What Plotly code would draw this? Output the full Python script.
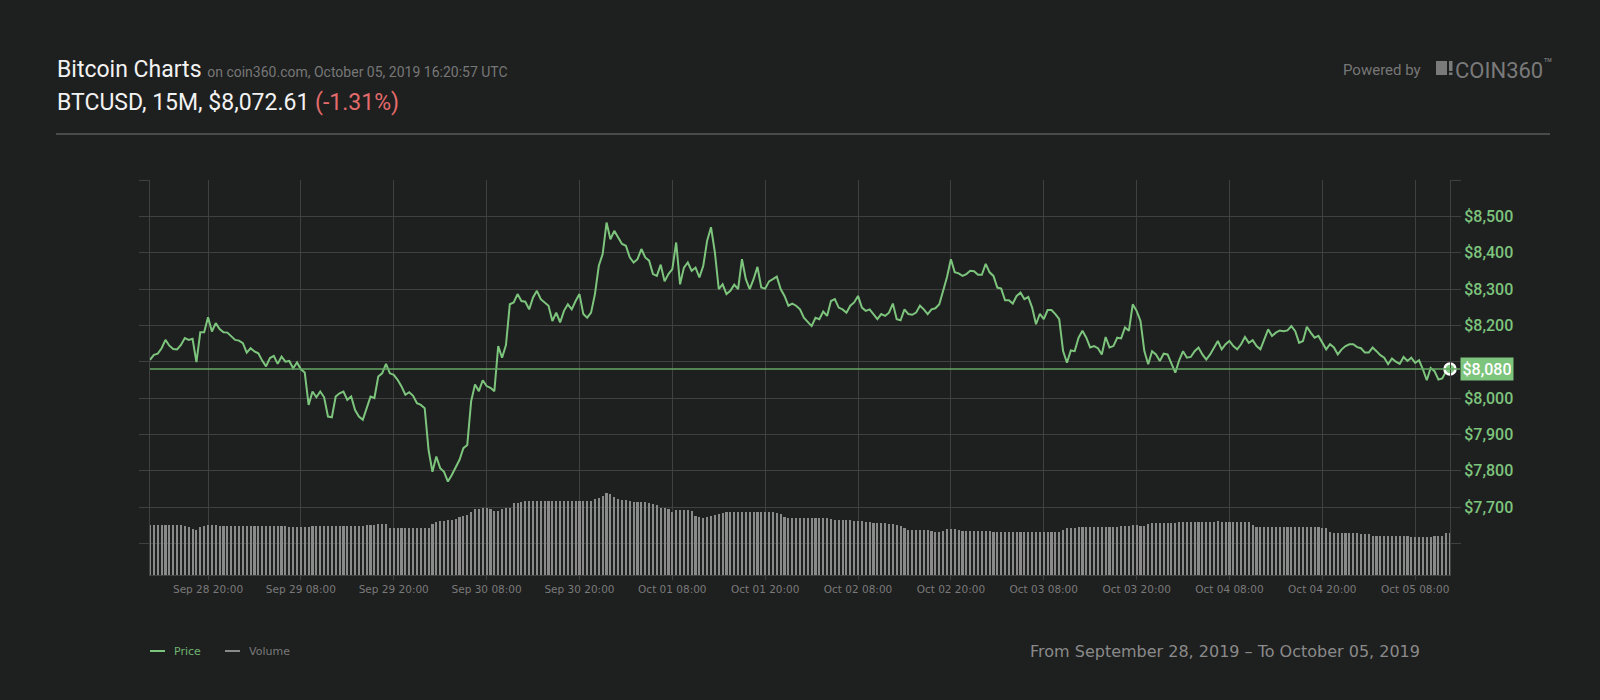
import pandas as pd
import plotly.graph_objects as go

# BTCUSD, every 30 minutes (Sep 28 12:30 -> Oct 05 12:30)
times = pd.date_range("2019-09-28 12:30", periods=337, freq="30min")

price = [
    8105, 8119, 8122, 8137, 8160, 8144, 8135, 8134, 8146, 8165,
    8160, 8163, 8099, 8181, 8181, 8222, 8183, 8206, 8190, 8181,
    8180, 8169, 8160, 8158, 8151, 8125, 8137, 8128, 8123, 8103,
    8087, 8110, 8116, 8094, 8114, 8100, 8102, 8082, 8098, 8079,
    8070, 7981, 8018, 8002, 8018, 8002, 7949, 7947, 8004, 8013,
    8018, 7995, 8004, 7967, 7949, 7940, 7972, 8004, 8000, 8059,
    8068, 8094, 8068, 8064, 8050, 8032, 8009, 8016, 8006, 7986,
    7981, 7972, 7857, 7797, 7839, 7807, 7797, 7770, 7788, 7807,
    7830, 7862, 7871, 7991, 8037, 8019, 8049, 8033, 8028, 8019,
    8143, 8111, 8146, 8258, 8263, 8286, 8267, 8265, 8244, 8277,
    8295, 8272, 8263, 8254, 8212, 8235, 8208, 8240, 8258, 8244,
    8267, 8286, 8231, 8221, 8235, 8286, 8364, 8396, 8483, 8437,
    8460, 8442, 8424, 8419, 8387, 8373, 8382, 8410, 8387, 8378,
    8341, 8336, 8367, 8321, 8341, 8355, 8428, 8313, 8359, 8373,
    8350, 8359, 8332, 8364, 8433, 8470, 8401, 8300, 8313, 8286,
    8295, 8312, 8300, 8382, 8327, 8300, 8327, 8361, 8304, 8301,
    8321, 8327, 8334, 8300, 8281, 8254, 8260, 8254, 8244, 8221,
    8208, 8198, 8221, 8217, 8238, 8226, 8267, 8272, 8249, 8244,
    8235, 8254, 8263, 8281, 8249, 8240, 8244, 8231, 8217, 8231,
    8226, 8235, 8260, 8217, 8214, 8244, 8231, 8229, 8235, 8254,
    8244, 8231, 8244, 8247, 8258, 8295, 8333, 8382, 8346, 8343,
    8336, 8341, 8350, 8349, 8339, 8339, 8369, 8346, 8336, 8304,
    8301, 8269, 8269, 8260, 8281, 8290, 8272, 8278, 8249, 8203,
    8232, 8217, 8242, 8242, 8231, 8217, 8129, 8097, 8131, 8129,
    8166, 8185, 8166, 8139, 8143, 8137, 8120, 8168, 8139, 8143,
    8166, 8164, 8194, 8185, 8258, 8240, 8212, 8129, 8093, 8129,
    8120, 8102, 8122, 8120, 8093, 8070, 8104, 8129, 8111, 8113,
    8129, 8139, 8120, 8106, 8120, 8137, 8157, 8134, 8148, 8157,
    8143, 8134, 8148, 8168, 8152, 8159, 8143, 8134, 8162, 8189,
    8171, 8180, 8186, 8184, 8186, 8198, 8184, 8152, 8157, 8196,
    8180, 8166, 8171, 8152, 8134, 8148, 8139, 8120, 8134, 8143,
    8148, 8148, 8140, 8137, 8125, 8125, 8139, 8129, 8118, 8111,
    8093, 8109, 8100, 8094, 8113, 8102, 8111, 8097, 8104, 8079,
    8049, 8083, 8074, 8051, 8054, 8074, 8080,
]

# volume (no scale on the chart, relative units)
volume = [
    50, 50, 50, 50, 50, 50, 50, 50, 50, 49.5,
    48.5, 46, 45, 48, 49, 50, 50, 50, 49, 49,
    49, 49, 49, 49, 49, 49, 49, 49, 49, 49,
    49, 49, 49, 49, 49, 49, 48, 48, 48, 48.5,
    48.5, 48.5, 49.5, 49.5, 49.5, 49.5, 49.5, 49.5, 49.5, 49.5,
    49.5, 49.5, 49, 49, 49, 49, 50, 50, 50, 51.5,
    51.5, 51.5, 47.5, 47.5, 47.5, 47.5, 47.5, 47.5, 47.5, 47.5,
    47.5, 47.5, 47, 51, 53, 54, 54.5, 55, 55.5, 56,
    58, 59, 60, 63, 66, 66.5, 66.7, 66.7, 66, 64,
    64, 66.5, 66.7, 67, 72, 72.5, 73, 74, 74, 74,
    74, 74, 74, 74, 74, 74, 74, 74, 74, 74,
    74, 74, 74, 74, 74.5, 76.5, 77, 79, 81.7, 81.5,
    78.5, 76, 75, 75, 74.5, 73, 72.7, 72.7, 72.7, 72,
    71.5, 70, 67.5, 66.7, 66.5, 63.5, 65, 65, 65, 65,
    64.5, 59.5, 58.5, 57.5, 58, 59, 60.5, 61, 62, 63,
    63.5, 63.5, 63.5, 63.5, 63.5, 63.5, 63.5, 63.5, 63.5, 63.3,
    63.3, 63.3, 62.5, 61.5, 58.5, 57.5, 56.7, 56.7, 56.7, 56.7,
    56.7, 57, 57.3, 57.3, 57, 56.7, 56.3, 55, 55, 55,
    55, 55, 54.5, 54, 54, 53.5, 53, 52, 51.7, 51.7,
    51.7, 51, 50.7, 50.5, 49, 47.5, 45, 45, 45, 45,
    45, 45, 44, 43.3, 43.3, 44, 45.7, 45.7, 45.7, 45,
    44.3, 44.3, 44.3, 44.3, 44.3, 44.3, 44.3, 44.3, 43, 42.7,
    42.7, 42.7, 42.7, 42.7, 42.7, 42.7, 42.7, 42.7, 42.7, 42.7,
    42.7, 42.7, 42.7, 42.7, 42.7, 42.7, 45, 46.7, 46.7, 47,
    48, 48, 48, 48, 48, 48, 48, 48, 48, 48,
    48, 48.7, 49, 49, 50, 50, 49, 49.5, 51, 51.7,
    51.7, 51.7, 51.7, 51.7, 51.7, 51.7, 52.7, 52.7, 52.7, 52.7,
    52.7, 52.7, 52.7, 52.7, 52.7, 52.7, 54, 52.7, 52.7, 52.7,
    52.7, 52.7, 52.7, 52.7, 52.7, 50, 48.3, 48.3, 48.3, 48.3,
    48.3, 48.3, 48.3, 48.3, 48.3, 48.3, 48.3, 48.3, 48.3, 48.3,
    48.3, 48.3, 48.3, 46.7, 46.7, 43, 41.7, 41.7, 41.7, 41.7,
    41.7, 41.7, 41.7, 41, 40.7, 40.7, 39.3, 39.3, 39.3, 39.3,
    39.3, 39.3, 39.3, 39.3, 39.3, 39.3, 38.3, 38.3, 38.3, 38.3,
    38.3, 38.3, 39.3, 39.3, 39.3, 41.7, 41.7,
]

# $8,100 sits under the last-price tag in the original, so it has no label
price_ticks = [7600, 7700, 7800, 7900, 8000, 8100, 8200, 8300, 8400, 8500, 8600]
price_labels = ["", "$7,700", "$7,800", "$7,900", "$8,000", "",
                "$8,200", "$8,300", "$8,400", "$8,500", ""]

assert len(price) == len(times) == len(volume)

BG = "#1e1f1f"
GRID = "#404040"
GREEN = "#7dc47d"


# pixel -> paper helpers (plot area is 150..1450 x 180..575)
def px_x(x):
    return (x - 150) / 1300


def px_y(y):
    return (575 - y) / 395


fig = go.Figure()

fig.add_trace(go.Bar(
    x=times, y=volume, yaxis="y2",
    marker_color="#8a8a8a", marker_line_width=0,
    width=0.55 * 30 * 60 * 1000,
    hoverinfo="skip", showlegend=False,
))

fig.add_trace(go.Scatter(
    x=times, y=price, mode="lines",
    line=dict(color=GREEN, width=2),
    showlegend=False,
))

last = price[-1]

fig.add_trace(go.Scatter(
    x=[times[-1]], y=[last], mode="markers",
    marker=dict(size=11, color=GREEN, line=dict(color="white", width=2.5)),
    cliponaxis=False, showlegend=False,
))

shapes = [
    # last price line
    dict(type="line", xref="paper", yref="y", x0=0, x1=px_x(1460), y0=last, y1=last,
         line=dict(color="#64a864", width=1.5)),
    # header separator
    dict(type="line", xref="paper", yref="paper", x0=px_x(56), x1=px_x(1550),
         y0=px_y(134), y1=px_y(134), line=dict(color="#4a4a4a", width=2)),
    # legend swatches
    dict(type="line", xref="paper", yref="paper", x0=px_x(150), x1=px_x(165),
         y0=px_y(651), y1=px_y(651), line=dict(color=GREEN, width=2)),
    dict(type="line", xref="paper", yref="paper", x0=px_x(225), x1=px_x(240),
         y0=px_y(651), y1=px_y(651), line=dict(color="#8a8a8a", width=2)),
    # coin360 logo block
    dict(type="rect", xref="paper", yref="paper", x0=px_x(1436), x1=px_x(1447),
         y0=px_y(75), y1=px_y(61), fillcolor="#7a7a7a", line_width=0),
    dict(type="rect", xref="paper", yref="paper", x0=px_x(1449), x1=px_x(1452.5),
         y0=px_y(71), y1=px_y(61), fillcolor="#7a7a7a", line_width=0),
    dict(type="rect", xref="paper", yref="paper", x0=px_x(1449), x1=px_x(1452.5),
         y0=px_y(75), y1=px_y(72.5), fillcolor="#7a7a7a", line_width=0),
]

annotations = [
    dict(x=px_x(55), y=px_y(69), xref="paper", yref="paper", xanchor="left", yanchor="middle",
         text="Bitcoin Charts <span style='font-size:14px;color:#777777'>"
              "on coin360.com, October 05, 2019 16:20:57 UTC</span>",
         showarrow=False, font=dict(family="Roboto", size=23, color="#f2f2f2")),
    dict(x=px_x(55), y=px_y(102), xref="paper", yref="paper", xanchor="left", yanchor="middle",
         text="BTCUSD, 15M, $8,072.61 <span style='color:#e36b6b'>(-1.31%)</span>",
         showarrow=False, font=dict(family="Roboto", size=23, color="#f2f2f2")),
    dict(x=px_x(1423), y=px_y(70), xref="paper", yref="paper", xanchor="right", yanchor="middle",
         text="Powered by", showarrow=False,
         font=dict(family="Roboto", size=15, color="#777777")),
    dict(x=px_x(1453), y=px_y(69), xref="paper", yref="paper", xanchor="left", yanchor="middle",
         text="COIN360<sup>™</sup>", showarrow=False,
         font=dict(family="Roboto", size=22, color="#7a7a7a")),
    # last price tag
    dict(x=1, xshift=10, y=last, xref="paper", yref="y", xanchor="left", yanchor="middle",
         text=f"${last:,.0f}", showarrow=False, bgcolor=GREEN, borderpad=2,
         width=48, height=18, align="center",
         font=dict(family="Roboto", size=16, color="white", weight=500)),
    # legend
    dict(x=px_x(172), y=px_y(651), xref="paper", yref="paper", xanchor="left", yanchor="middle",
         text="Price", showarrow=False,
         font=dict(family="DejaVu Sans", size=11, color="#6fb46f")),
    dict(x=px_x(247), y=px_y(651), xref="paper", yref="paper", xanchor="left", yanchor="middle",
         text="Volume", showarrow=False,
         font=dict(family="DejaVu Sans", size=11, color="#7a7a7a")),
    dict(x=px_x(1422), y=px_y(651), xref="paper", yref="paper", xanchor="right", yanchor="middle",
         text="From September 28, 2019 – To October 05, 2019", showarrow=False,
         font=dict(family="DejaVu Sans", size=16, color="#8a8a8a")),
]

fig.update_layout(
    width=1600, height=700,
    margin=dict(l=150, r=150, t=180, b=125),
    paper_bgcolor=BG, plot_bgcolor=BG,
    font=dict(family="Roboto", color="#cccccc"),
    showlegend=False,
    shapes=shapes,
    annotations=annotations,
    xaxis=dict(
        type="date",
        range=[times[0], times[-1]],
        tick0="2019-09-28 20:00", dtick=12 * 3600 * 1000,
        tickformat="%b %d %H:%M",
        tickfont=dict(family="DejaVu Sans", size=10.5, color="#7a7a7a"),
        ticks="outside", ticklen=4, tickcolor=GRID,
        showgrid=True, gridcolor=GRID, gridwidth=1,
        showline=True, linecolor=GRID, linewidth=1,
        zeroline=False,
    ),
    yaxis=dict(
        side="right",
        range=[7513, 8600],
        tickvals=price_ticks, ticktext=price_labels,
        tickfont=dict(family="Roboto", size=16, color=GREEN, weight=500),
        ticks="outside", ticklen=10, tickcolor=GRID,
        showgrid=True, gridcolor=GRID, gridwidth=1,
        showline=True, mirror="ticks", linecolor=GRID, linewidth=1,
        zeroline=False,
    ),
    yaxis2=dict(
        overlaying="y", range=[0, 395], visible=False,
    ),
    bargap=0,
)

# drop the page margin so the 1600x700 figure fills the window
fig.write_html(
    "out.html",
    config={"displayModeBar": False},
    post_script="document.body.style.margin='0';document.body.style.overflow='hidden';",
)
